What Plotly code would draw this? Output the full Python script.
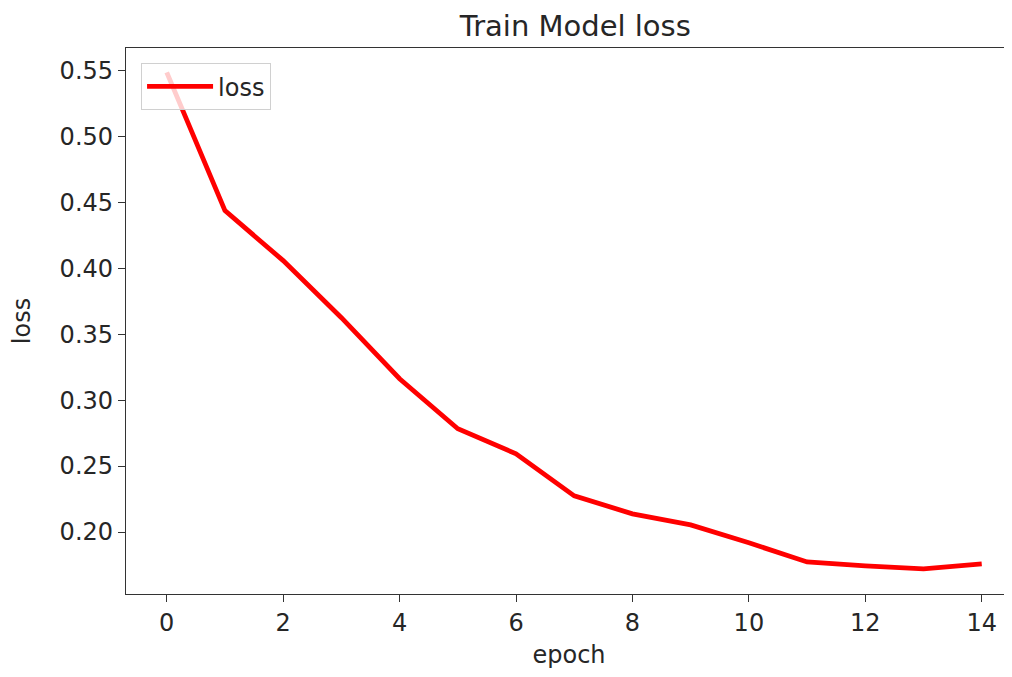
import plotly.graph_objects as go

epochs = list(range(15))
loss = [0.5485, 0.4437, 0.4058, 0.3625, 0.3162, 0.2783, 0.2593, 0.2274,
        0.2138, 0.2054, 0.1918, 0.1773, 0.1743, 0.1720, 0.1758]
x_ticks = [0, 2, 4, 6, 8, 10, 12, 14]
y_ticks = [0.20, 0.25, 0.30, 0.35, 0.40, 0.45, 0.50, 0.55]

FONT = "DejaVu Sans"
TXT = "#262626"
fig = go.Figure()
fig.add_trace(go.Scatter(x=epochs, y=loss, mode="lines", name="loss",
                         line=dict(color="#ff0000", width=4.8)))

fig.update_layout(
    width=1004, height=661,
    margin=dict(l=118, r=0, t=40, b=75, autoexpand=False),
    paper_bgcolor="white", plot_bgcolor="white",
    font=dict(family=FONT, size=24, color=TXT),
    title=dict(text="Train Model loss", x=0.565, xanchor="center", y=0.973, yanchor="middle",
               font=dict(family=FONT, size=29, color=TXT)),
    showlegend=True,
    legend=dict(x=0.017, y=0.972, xanchor="left", yanchor="top",
                bgcolor="rgba(255,255,255,0.8)", bordercolor="#d0d0d0", borderwidth=1,
                itemwidth=66,
                font=dict(family=FONT, size=24, color=TXT)),
)
fig.update_xaxes(range=[-0.7, 14.52], tickvals=x_ticks, ticktext=[str(t) for t in x_ticks],
                 automargin=False,
                 showgrid=False, zeroline=False, showline=True, linecolor="#333333", linewidth=1.3,
                 mirror=True, ticks="outside", ticklen=7, tickcolor="#333333",
                 tickfont=dict(family=FONT, size=24, color=TXT),
                 title=dict(text="epoch", font=dict(family=FONT, size=24, color=TXT), standoff=28))
fig.update_yaxes(range=[0.153, 0.567], tickvals=y_ticks, ticktext=[f"{t:.2f}" for t in y_ticks],
                 automargin=False,
                 showgrid=False, zeroline=False, showline=True, linecolor="#333333", linewidth=1.3,
                 ticks="outside", ticklen=7, tickcolor="#333333",
                 tickfont=dict(family=FONT, size=24, color=TXT),
                 title=dict(text="loss", font=dict(family=FONT, size=24, color=TXT), standoff=24))

fig.write_html("out.html")
